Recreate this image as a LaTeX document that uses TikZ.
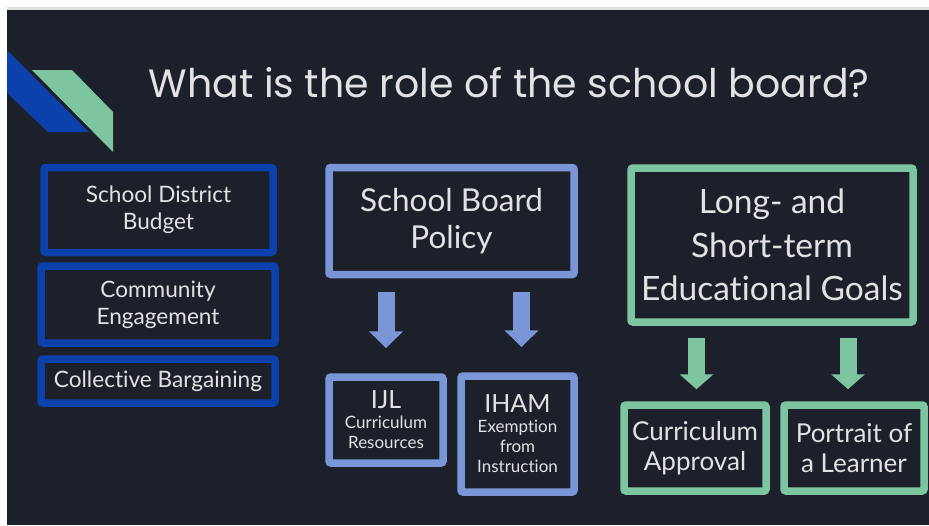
\documentclass[tikz,border=0pt]{standalone}
\usepackage{fontspec}
\setmainfont[Ligatures=NoCommon]{Lato}
\newfontfamily\titlefont{Poppins}
\usetikzlibrary{arrows.meta}

\definecolor{slate}{RGB}{28,32,43}
\definecolor{royal}{RGB}{12,64,170}
\definecolor{periwinkle}{RGB}{122,150,214}
\definecolor{mint}{RGB}{125,196,160}
\definecolor{chalk}{RGB}{226,226,226}

\tikzset{
  box/.style={draw, line width=7.5pt, rounded corners=2pt, align=center, inner sep=0pt, text=chalk},
  down/.style={-{Triangle[length=17pt,width=33pt]}, line width=17pt},
}

\begin{document}
\begin{tikzpicture}[x=1pt, y=-1pt]
    % page and slide background
    \fill[white] (0,0) rectangle (929,525);
    \fill[black!12] (7,7) rectangle (929,10);
    \fill[slate] (7,10) rectangle (929,525);
    \useasboundingbox (0,0) rectangle (929,525);

    % corner logo
    \fill[royal] (7,50) -- (89,132) -- (48,132) -- (7,93) -- cycle;
    \fill[mint] (32,70) -- (72,70) -- (113,112) -- (113,152) -- cycle;

    \node[anchor=base, text=chalk, font=\titlefont\fontsize{39.5}{44}\selectfont] (title) at (509,97) {What is the role of the school board?};

    % left column
    \begin{scope}[every node/.append style={box, draw=royal, font=\fontsize{22.6}{27}\selectfont}]
        \node[minimum width=229pt, minimum height=85pt] (budget) at (158.5,210) {School District\\Budget};
        \node[minimum width=234pt, minimum height=77pt] (community) at (158,304.5) {Community\\Engagement};
        \node[minimum width=234pt, minimum height=44pt] (bargaining) at (158,381) {Collective Bargaining};
    \end{scope}

    % middle column
    \begin{scope}[every node/.append style={box, draw=periwinkle}]
        \node[minimum width=245pt, minimum height=107pt, font=\fontsize{31.5}{37}\selectfont] (policy) at (451.5,221) {School Board\\Policy};
        \node[minimum width=114pt, minimum height=86pt, font=\fontsize{17}{20}\selectfont] (ijl) at (386,420)
            {{\fontsize{25}{26}\selectfont IJL}\\Curriculum\\Resources};
        \node[minimum width=113pt, minimum height=116pt, font=\fontsize{17}{20}\selectfont] (iham) at (517.5,434)
            {{\fontsize{25}{26}\selectfont IHAM}\\Exemption\\from\\Instruction};
    \end{scope}
    \draw[down, periwinkle, shorten <=14pt, shorten >=25pt] (policy.south -| ijl.north) -- (ijl.north);
    \draw[down, periwinkle, shorten <=14pt, shorten >=25pt] ([xshift=4pt]policy.south -| iham.north) -- ([xshift=4pt]iham.north);

    % right column
    \begin{scope}[every node/.append style={box, draw=mint}]
        \node[minimum width=282pt, minimum height=154pt, font=\fontsize{33.5}{43.5}\selectfont] (goals) at (772,245) {Long- and\\Short-term\\Educational Goals};
        \node[minimum width=142pt, minimum height=86pt, font=\fontsize{26}{30}\selectfont] (approval) at (695,448) {Curriculum\\Approval};
        \node[minimum width=140pt, minimum height=86pt, font=\fontsize{26}{30}\selectfont] (portrait) at (854,448) {Portrait of\\a Learner};
    \end{scope}
    \draw[down, mint, -{Triangle[length=15pt,width=33pt]}, shorten <=12pt, shorten >=12pt] ([xshift=1.5pt]goals.south -| approval.north) -- ([xshift=1.5pt]approval.north);
    \draw[down, mint, -{Triangle[length=15pt,width=33pt]}, shorten <=12pt, shorten >=12pt] ([xshift=-6pt]goals.south -| portrait.north) -- ([xshift=-6pt]portrait.north);
\end{tikzpicture}
\end{document}
